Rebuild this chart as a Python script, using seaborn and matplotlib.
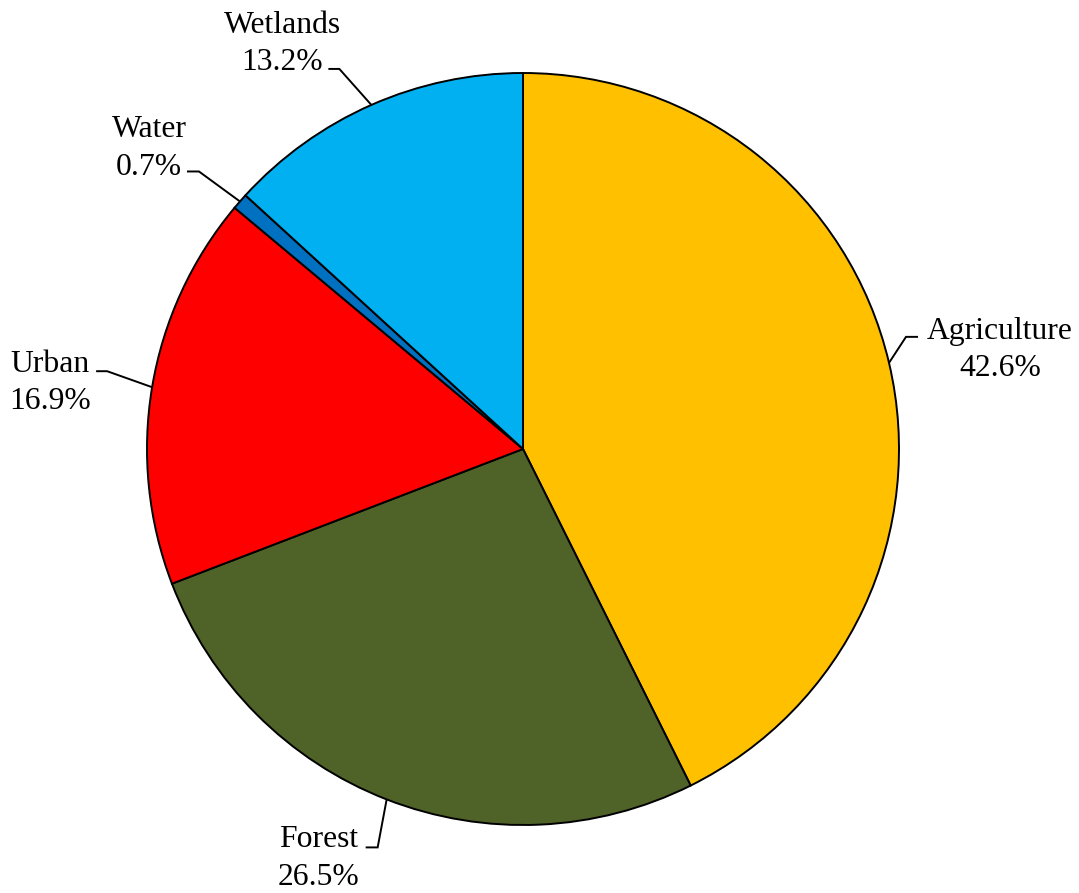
import numpy as np
import matplotlib.pyplot as plt
import seaborn as sns

# land cover shares (%)
categories = ["Agriculture", "Forest", "Urban", "Water", "Wetlands"]
shares = [42.6, 26.5, 16.9, 0.7, 13.2]
colors = ["#FFC000", "#4F6228", "#FF0000", "#0070C0", "#00B0F0"]

# leader line layout in pixels: elbow offset from wedge edge, horizontal run, text offset
elbow_off = [(17, 26), (-9, -48), (-45, 16), (-41, 30), (-32, 36)]
h_run = [12, -12, -11, -12, -11]
text_off = [(82, -13), (-47, -11), (-46, -12), (-38, 23), (-46, 25)]

sns.set_theme(style="white")
plt.rcParams["font.family"] = ["Liberation Serif", "DejaVu Serif"]

fig = plt.figure(figsize=(10.79, 8.93), dpi=100)
ax = fig.add_axes([0, 0, 1, 1])

R = 376
wedges, _ = ax.pie(shares, colors=colors, radius=R, startangle=90,
                   counterclock=False,
                   wedgeprops=dict(edgecolor="black", linewidth=1.4))
ax.set_xlim(-523, 556)
ax.set_ylim(-444, 449)
ax.set_aspect("equal")
ax.axis("off")

for w, name, val, eo, hr, to in zip(wedges, categories, shares,
                                     elbow_off, h_run, text_off):
    mid = np.deg2rad((w.theta1 + w.theta2) / 2)
    x0, y0 = R * np.cos(mid), R * np.sin(mid)
    x1, y1 = x0 + eo[0], y0 + eo[1]
    x2 = x1 + hr
    ax.plot([x0, x1, x2], [y0, y1, y1], color="black", lw=1.4,
            solid_capstyle="butt", solid_joinstyle="miter")
    ax.text(x2 + to[0], y1 + to[1], f"{name}\n{val}%", ha="center",
            va="center", multialignment="center", fontsize=22.8,
            linespacing=1.38, color="black")

fig.savefig("out.png", dpi=100, facecolor="white")
